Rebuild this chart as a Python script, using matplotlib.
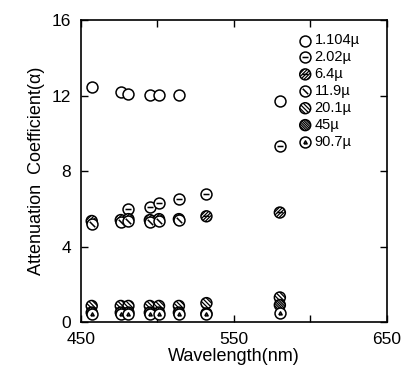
import numpy as np
import matplotlib
matplotlib.use('Agg')
import matplotlib.pyplot as plt
from matplotlib.path import Path

plt.rcParams['font.family'] = ['Liberation Sans', 'DejaVu Sans']
plt.rcParams['hatch.linewidth'] = 0.9

# Data
wavelength = [457, 476, 481, 495, 501, 514, 532, 580]
nan = np.nan
a_1104 = [12.45, 12.2, 12.1, 12.05, 12.05, 12.05, nan, 11.7]
a_202 = [nan, nan, 6.0, 6.1, 6.3, 6.5, 6.8, 9.3]
a_64 = [5.35, 5.4, 5.45, 5.4, 5.45, 5.45, 5.6, 5.8]
a_119 = [5.2, 5.3, 5.35, 5.3, 5.35, 5.4, nan, nan]
a_201 = [0.85, 0.85, 0.85, 0.85, 0.85, 0.85, 1.0, 1.3]
a_45 = [0.5, 0.5, 0.5, 0.5, 0.5, 0.5, 0.45, 0.9]
a_907 = [0.4, 0.4, 0.4, 0.4, 0.4, 0.4, 0.4, 0.5]
labels = ['1.104\u00b5', '2.02\u00b5', '6.4\u00b5', '11.9\u00b5', '20.1\u00b5', '45\u00b5', '90.7\u00b5']

circ = Path.unit_circle()
dash = Path.make_compound_path(circ, Path([(-0.55, 0), (0.55, 0)]))
slash = Path.make_compound_path(circ, Path([(-0.5, 0.5), (0.5, -0.5)]))
tri = Path.make_compound_path(circ, Path([(-0.3, -0.25), (0.3, -0.25), (0, 0.3), (-0.3, -0.25)]))

styles = [
    dict(marker='o', hatch=None),
    dict(marker=dash, hatch=None),
    dict(marker=dash, hatch='/' * 10),
    dict(marker=slash, hatch=None),
    dict(marker='o', hatch='\\' * 8),
    dict(marker='o', hatch='\\' * 14),
    dict(marker=tri, hatch=None),
]
series = [a_1104, a_202, a_64, a_119, a_201, a_45, a_907]

fig = plt.figure(figsize=(4.02, 3.76), dpi=100)
ax = fig.add_axes([0.2015, 0.1436, 0.761, 0.8032])

for y, lab, st in zip(series, labels, styles):
    ax.scatter(wavelength, y, s=62, marker=st['marker'], facecolors='white',
               edgecolors='black', linewidths=1.1, hatch=st['hatch'], label=lab,
               zorder=3)

ax.set_xlim(450, 650)
ax.set_ylim(0, 16)
ax.set_xticks([450, 550, 650])
ax.set_xticks([500, 600], minor=True)
ax.set_yticks([0, 4, 8, 12, 16])
ax.tick_params(which='both', direction='in', top=True, right=True, labelsize=12.5,
               length=5, width=1)
ax.tick_params(axis='x', pad=7)
ax.tick_params(axis='y', pad=7)
for sp in ax.spines.values():
    sp.set_linewidth(1.2)

ax.set_xlabel('Wavelength(nm)', fontsize=13, labelpad=1)
ax.set_ylabel('Attenuation  Coefficient(\u03b1)', fontsize=13, labelpad=5)

leg = ax.legend(loc='upper left', bbox_to_anchor=(0.69, 0.975), frameon=False,
                fontsize=10.5, handletextpad=0.15, labelspacing=0.2,
                borderaxespad=0, handlelength=1.0, scatterpoints=1)

fig.savefig('out.png', dpi=100)
